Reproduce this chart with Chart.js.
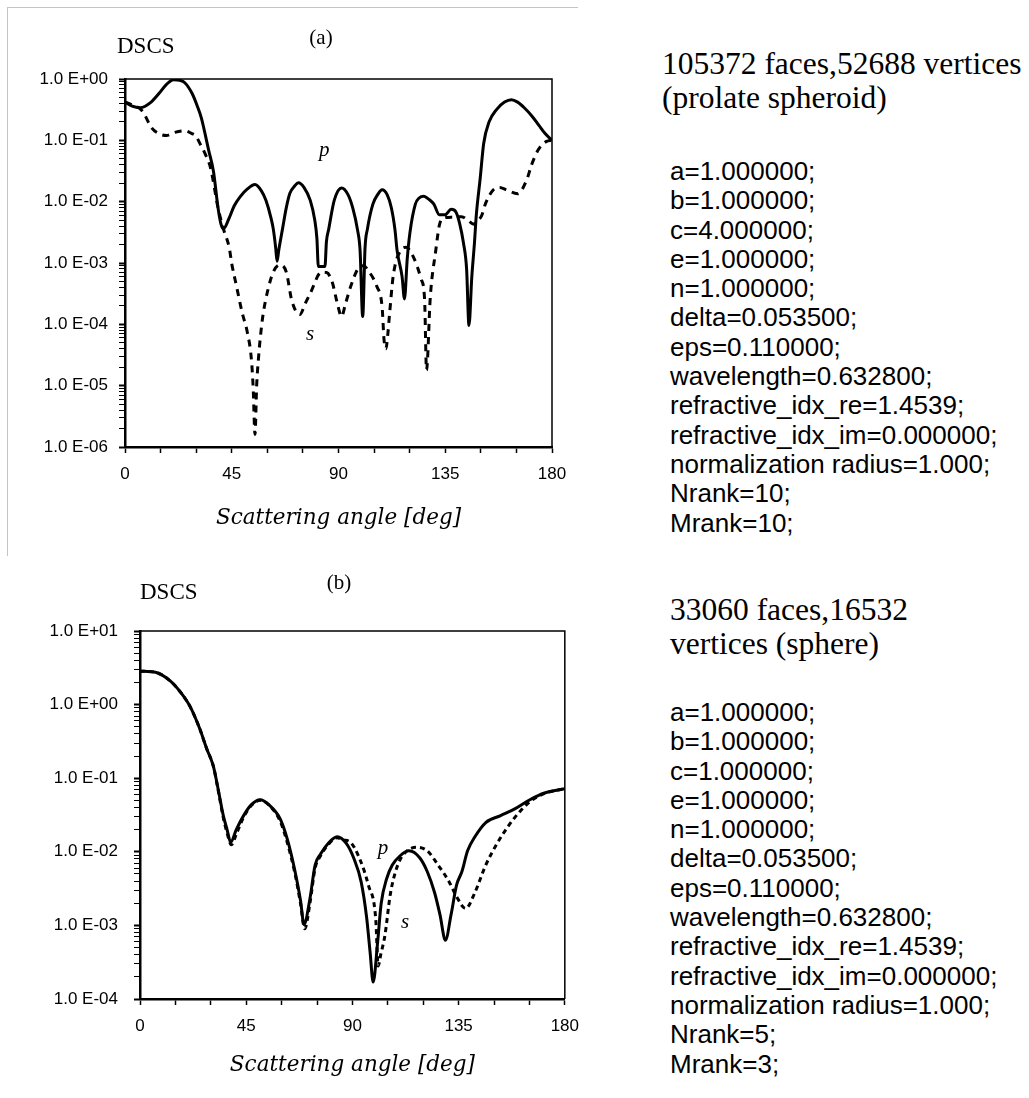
<!DOCTYPE html>
<html>
<head>
<meta charset="utf-8">
<title>DSCS</title>
<script src="https://cdn.jsdelivr.net/npm/chart.js@4.4.1/dist/chart.umd.min.js"></script>
<style>
  body { margin: 0; background: #fff; }
  #page { position: relative; width: 1029px; height: 1098px; overflow: hidden; }
  .plot { position: absolute; left: 0; }
  #plotA { top: 0; }
  #plotB { top: 550px; }
  #frameA { position: absolute; left: 7px; top: 7px; width: 570px; height: 548px; border-top: 1px solid #c4c4c4; border-left: 1px solid #c4c4c4; }
  .head { position: absolute; font-family: "Liberation Serif", serif; font-size: 31.5px; line-height: 34px; color: #000; }
  .params { position: absolute; font-family: "Liberation Sans", Arial, sans-serif; font-size: 26px; line-height: 29.3px; color: #000; margin: 0; padding: 0; list-style: none; }
</style>
</head>
<body>
<div id="page">
  <div id="frameA"></div>
  <canvas id="plotA" class="plot" width="580" height="550"></canvas>
  <canvas id="plotB" class="plot" width="590" height="548"></canvas>
  <div class="head" style="left:662px;top:47px">105372 faces,52688 vertices<br>(prolate spheroid)</div>
  <ul class="params" id="paramsA" style="left:670px;top:157px"></ul>
  <div class="head" style="left:670px;top:593px">33060 faces,16532<br>vertices (sphere)</div>
  <ul class="params" id="paramsB" style="left:670px;top:698px"></ul>
</div>
<script>
// (a) prolate spheroid - p (solid) and s (dashed)
const anglesPA = [0, 3, 6.5, 11, 14.3, 17.5, 20.5, 23, 25.2, 28.3, 30.5, 32.2, 35.3, 37.3, 39.2, 40.4, 41.5, 43.9, 46, 48.5,
  51.5, 54.8, 57.5, 59.4, 61.5, 62.5, 63.5, 64.1, 64.8, 66.4, 68, 69.5, 71.5, 73.1, 75.5, 78.1, 80, 80.9, 81.5, 84.3,
  84.9, 85.9, 88.2, 91.3, 94, 96, 98, 99.1, 100.2, 101.2, 102.2, 104.5, 106.5, 108.4, 110.5, 112.3, 113.8, 114.7, 116.8, 117.8,
  119, 120.1, 122.4, 124, 126, 128, 130.2, 132.5, 134.9, 137.5, 139.5, 141, 142.7, 144, 145, 146.2, 147.3, 148.1, 149.7, 151.2,
  153.5, 156.7, 160, 162.9, 165.5, 168.3, 171.5, 174.5, 177, 180]
const dscsPA = [0.42, 0.36, 0.34, 0.42, 0.58, 0.82, 0.97, 0.95, 0.87, 0.58, 0.36, 0.23, 0.068, 0.031, 0.008, 0.0044, 0.0036, 0.0054, 0.0085, 0.012,
  0.016, 0.019, 0.015, 0.0105, 0.0055, 0.0036, 0.0018, 0.00107, 0.0016, 0.0036, 0.008, 0.0137, 0.018, 0.0204, 0.017, 0.0105, 0.005, 0.0025, 0.00088, 0.00088,
  0.0022, 0.0036, 0.0105, 0.0167, 0.013, 0.0079, 0.0035, 0.0016, 0.000134, 0.0018, 0.0036, 0.0091, 0.013, 0.0156, 0.013, 0.0079, 0.0035, 0.0016, 0.0006, 0.00026,
  0.0012, 0.0031, 0.0091, 0.0115, 0.0123, 0.011, 0.0091, 0.0061, 0.0061, 0.0075, 0.0068, 0.0045, 0.0021, 0.0008, 0.000096, 0.0006, 0.0021, 0.0061, 0.0234, 0.089,
  0.2, 0.32, 0.42, 0.46, 0.42, 0.34, 0.25, 0.175, 0.13, 0.1]
const anglesSA = [0, 3, 7.3, 11.2, 14, 17.4, 21, 25.2, 28, 29.9, 31.5, 33.8, 36.1, 39.2, 41.5, 43.9, 45.1, 47, 49.3, 51.6,
  53.2, 54, 54.8, 55.5, 56.3, 57.1, 58.2, 60.2, 62.5, 65.3, 68, 70.3, 73.7, 76, 78.1, 82.8, 85, 87.4, 89.5, 91.3,
  93, 95.2, 98.3, 100.5, 103, 106.1, 108.4, 109.2, 110, 110.8, 111.5, 113.1, 116.2, 118.5, 121.7, 124.8, 126.3, 127.1, 128.7, 131,
  132.5, 134.1, 138, 141.9, 144.5, 147, 148.1, 150.4, 152, 155.2, 158, 160.8, 165.5, 169.3, 171.4, 174.2, 177.7, 180]
const dscsSA = [0.42, 0.38, 0.3, 0.16, 0.13, 0.12, 0.135, 0.143, 0.13, 0.117, 0.09, 0.06, 0.035, 0.008, 0.0036, 0.0018, 0.00093, 0.00042, 0.00016, 0.000073,
  0.000029, 0.0000098, 0.0000016, 0.00001, 0.000029, 0.000064, 0.000144, 0.00036, 0.00071, 0.00093, 0.00071, 0.000245, 0.000144, 0.00022, 0.00032, 0.00071, 0.0007, 0.00048, 0.00022, 0.000134,
  0.00022, 0.00042, 0.00082, 0.0009, 0.00071, 0.00042, 0.000188, 0.000056, 0.00004, 0.00007, 0.000144, 0.00063, 0.0016, 0.0018, 0.00122, 0.00055, 0.00025, 0.000018, 0.00028, 0.0016,
  0.0041, 0.0054, 0.0056, 0.0057, 0.005, 0.0043, 0.0047, 0.006, 0.0094, 0.0155, 0.017, 0.0155, 0.0135, 0.0224, 0.04, 0.07, 0.096, 0.1]

// (b) sphere - p (solid) and s (dashed)
const anglesPB = [0, 6.5, 12.8, 17.4, 21.3, 25.2, 28.3, 31.1, 33, 35.3, 36.9, 38.4, 40.8, 43.9, 47, 50.9, 54.8, 59.4, 62.5, 65.7,
  68, 69.5, 71.9, 74.2, 76.5, 79.7, 83.5, 87.4, 90.5, 93.7, 96, 97.5, 98.8, 100.7, 102.2, 104.5, 106.9, 110, 113.9, 118.5,
  121.7, 124.8, 127.1, 129.4, 131.8, 134.1, 136.4, 138.8, 141.9, 146.5, 152.8, 159, 165.2, 171.4, 180]
const dscsPB = [2.85, 2.75, 2.1, 1.44, 0.93, 0.48, 0.25, 0.145, 0.074, 0.031, 0.02, 0.0135, 0.02, 0.031, 0.043, 0.051, 0.043, 0.028, 0.0145, 0.0054,
  0.0022, 0.00103, 0.0022, 0.0066, 0.0093, 0.013, 0.016, 0.013, 0.0083, 0.0039, 0.0013, 0.00043, 0.00017, 0.0006, 0.002, 0.0043, 0.0066, 0.0087, 0.0103, 0.0083,
  0.0054, 0.0028, 0.0014, 0.00063, 0.0014, 0.0035, 0.0054, 0.0103, 0.016, 0.025, 0.031, 0.0386, 0.051, 0.063, 0.072]
const anglesSB = [0, 6.5, 12.8, 17.4, 21.3, 25.2, 28.3, 31.1, 33, 35.3, 36.9, 38.7, 41, 44, 47, 51, 55, 59.4, 62.5, 65.7,
  68, 69.8, 72, 74.2, 76.5, 79.7, 83.5, 86, 89, 92.9, 96.8, 99.9, 100.9, 102, 103.8, 106.1, 109.2, 112.3, 117, 121.7,
  126.3, 131, 134, 138, 141.9, 146.5, 151.2, 155.9, 160.5, 165.2, 171.4, 180]
const dscsSB = [2.85, 2.75, 2.1, 1.44, 0.93, 0.48, 0.25, 0.145, 0.072, 0.029, 0.018, 0.0125, 0.018, 0.03, 0.042, 0.05, 0.042, 0.026, 0.013, 0.005,
  0.002, 0.0009, 0.002, 0.006, 0.0088, 0.0125, 0.0155, 0.0145, 0.0136, 0.0083, 0.0035, 0.0012, 0.00028, 0.0004, 0.00074, 0.0027, 0.0066, 0.0097, 0.0115, 0.0103,
  0.0066, 0.0039, 0.0025, 0.0017, 0.0028, 0.0066, 0.0128, 0.022, 0.034, 0.048, 0.062, 0.072]

const xTicks = [0, 45, 90, 135, 180]
const yTicksA = [1e-6, 1e-5, 1e-4, 1e-3, 1e-2, 1e-1, 1]
const yLabelsA = ['1.0 E-06', '1.0 E-05', '1.0 E-04', '1.0 E-03', '1.0 E-02', '1.0 E-01', '1.0 E+00']
const yTicksB = [1e-4, 1e-3, 1e-2, 1e-1, 1, 10]
const yLabelsB = ['1.0 E-04', '1.0 E-03', '1.0 E-02', '1.0 E-01', '1.0 E+00', '1.0 E+01']

const paramsA = ['a=1.000000;', 'b=1.000000;', 'c=4.000000;', 'e=1.000000;', 'n=1.000000;', 'delta=0.053500;', 'eps=0.110000;',
  'wavelength=0.632800;', 'refractive_idx_re=1.4539;', 'refractive_idx_im=0.000000;', 'normalization radius=1.000;', 'Nrank=10;', 'Mrank=10;']
const paramsB = ['a=1.000000;', 'b=1.000000;', 'c=1.000000;', 'e=1.000000;', 'n=1.000000;', 'delta=0.053500;', 'eps=0.110000;',
  'wavelength=0.632800;', 'refractive_idx_re=1.4539;', 'refractive_idx_im=0.000000;', 'normalization radius=1.000;', 'Nrank=5;', 'Mrank=3;']

function printParams(id, lines){
    const ul = document.querySelector(id)
    ul.innerHTML = ""
    lines.forEach(t => {
        const li = document.createElement('li')
        li.textContent = t
        ul.appendChild(li)
    })
}
printParams('#paramsA', paramsA)
printParams('#paramsB', paramsB)

function toPoints(angles, values){
    return angles.map((a, i) => ({x: a, y: values[i]}))
}

function isMajor(v, ticks){
    return ticks.some(t => Math.abs(v - t) < t * 1e-6)
}

// frame on top/right, text labels inside the plot
const plotText = {
    id: 'plotText',
    afterDatasetsDraw(chart, args, opts){
        const {ctx, chartArea: area, scales: {x, y}} = chart
        ctx.save()
        ctx.strokeStyle = '#000'
        ctx.lineWidth = 1.5
        ctx.beginPath()
        ctx.moveTo(area.left, area.top)
        ctx.lineTo(area.right, area.top)
        ctx.lineTo(area.right, area.bottom)
        ctx.stroke()

        ctx.fillStyle = '#000'
        ctx.textBaseline = 'middle'
        ctx.textAlign = 'center'
        ctx.font = 'italic 21px "Liberation Serif"'
        opts.notes.forEach(n => ctx.fillText(n.text, x.getPixelForValue(n.x), y.getPixelForValue(n.y)))

        ctx.textAlign = 'left'
        ctx.font = '23px "Liberation Serif"'
        ctx.fillText('DSCS', area.left + opts.dscs[0], area.top + opts.dscs[1])
        ctx.textAlign = 'center'
        ctx.font = '21px "Liberation Serif"'
        ctx.fillText(opts.tag, area.left + opts.tagPos[0], area.top + opts.tagPos[1])
        ctx.restore()
    }
}

function createGraph(canvasId, cfg){
    const ctx = document.querySelector(canvasId).getContext('2d')
    return new Chart(ctx, {
        type: 'line',
        data: {
            datasets: [
                {label: 's', data: toPoints(cfg.sx, cfg.sy), borderColor: '#000', borderWidth: 3,
                 borderDash: cfg.dash, pointRadius: 0, cubicInterpolationMode: 'monotone'},
                {label: 'p', data: toPoints(cfg.px, cfg.py), borderColor: '#000', borderWidth: 3,
                 pointRadius: 0, cubicInterpolationMode: 'monotone'}
            ]
        },
        options: {
            responsive: false,
            animation: false,
            layout: {padding: cfg.padding},
            plugins: {
                legend: {display: false},
                tooltip: {enabled: false},
                plotText: {notes: cfg.notes, tag: cfg.tag, tagPos: cfg.tagPos, dscs: cfg.dscs}
            },
            scales: {
                x: {
                    type: 'linear', min: 0, max: 180,
                    afterFit: s => { s.height = cfg.xHeight },
                    ticks: {stepSize: 15, autoSkip: false, maxRotation: 0, padding: 11, color: '#000',
                            font: {family: 'Liberation Sans', size: 17},
                            callback: v => xTicks.includes(v) ? v : ''},
                    grid: {drawOnChartArea: false, tickLength: 6, color: '#000', tickWidth: 1.5},
                    border: {display: true, color: '#000', width: 2.5},
                    title: {display: true, text: 'Scattering angle [deg]', color: '#000',
                            font: {family: 'DejaVu Serif', style: 'italic', size: 21.5},
                            padding: {top: 0, bottom: cfg.titlePad}}
                },
                y: {
                    type: 'logarithmic', min: cfg.yTicks[0], max: cfg.yTicks[cfg.yTicks.length - 1],
                    afterFit: s => { s.width = cfg.yWidth },
                    afterBuildTicks: s => {
                        const t = []
                        cfg.yTicks.forEach((v, i) => {
                            if (i === cfg.yTicks.length - 1) { t.push({value: v}); return }
                            for (let m = 1; m < 10; m++) t.push({value: v * m})
                        })
                        s.ticks = t
                    },
                    ticks: {autoSkip: false, padding: cfg.yPad, color: '#000',
                            font: {family: 'Liberation Sans', size: 17},
                            callback: v => {
                                const i = cfg.yTicks.findIndex(t => Math.abs(v - t) < t * 1e-6)
                                return i < 0 ? '' : cfg.yLabels[i]
                            }},
                    grid: {drawOnChartArea: false, tickLength: 6, color: '#000',
                           tickWidth: c => (c.tick && isMajor(c.tick.value, cfg.yTicks)) ? 2 : 1},
                    border: {display: true, color: '#000', width: 2.5}
                }
            }
        },
        plugins: [plotText]
    })
}

createGraph('#plotA', {
    px: anglesPA, py: dscsPA, sx: anglesSA, sy: dscsSA, dash: [7, 6],
    yTicks: yTicksA, yLabels: yLabelsA,
    padding: {left: 0, top: 79, right: 28, bottom: 0},
    yWidth: 125, xHeight: 103, yPad: 11, titlePad: 19,
    notes: [{text: 'p', x: 84, y: 0.069}, {text: 's', x: 78, y: 0.000068}],
    tag: '(a)', tagPos: [196, -41], dscs: [-8, -32]
})

createGraph('#plotB', {
    px: anglesPB, py: dscsPB, sx: anglesSB, sy: dscsSB, dash: [5, 4],
    yTicks: yTicksB, yLabels: yLabelsB,
    padding: {left: 0, top: 81, right: 22, bottom: 0},
    yWidth: 140, xHeight: 99, yPad: 16, titlePad: 19.5,
    notes: [{text: 'p', x: 103, y: 0.011}, {text: 's', x: 112.3, y: 0.0011}],
    tag: '(b)', tagPos: [199, -48], dscs: [0, -38]
})
</script>
</body>
</html>
